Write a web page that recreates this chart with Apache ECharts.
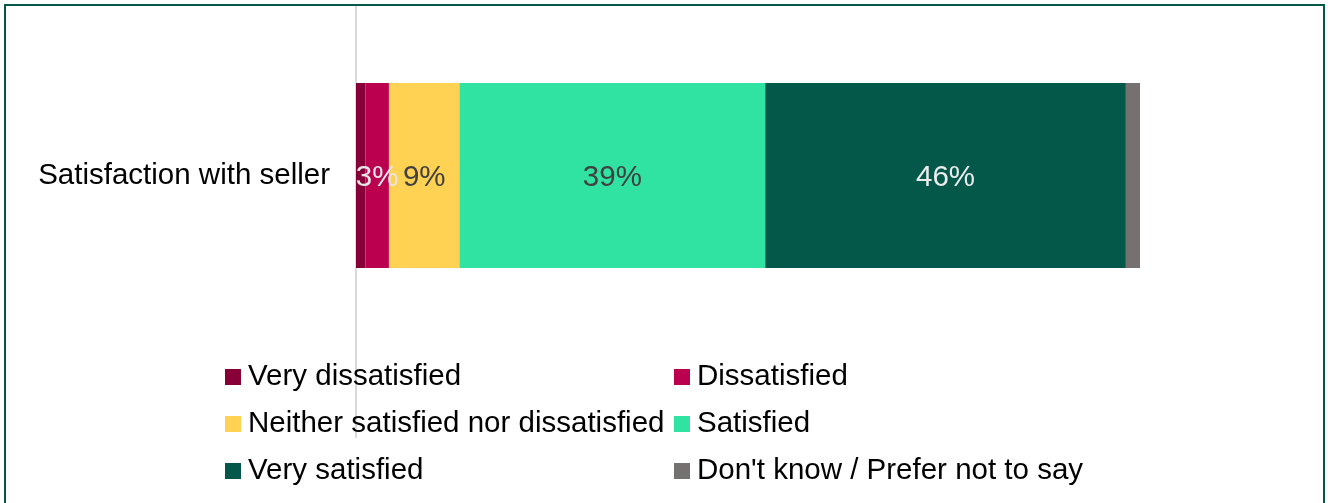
<!DOCTYPE html>
<html>
<head>
<meta charset="utf-8">
<script src="https://cdn.jsdelivr.net/npm/echarts@6/dist/echarts.min.js"></script>
<style>
  html, body { margin: 0; padding: 0; background: #fff; }
  #chart { position: absolute; left: 0; top: 0; width: 1328px; height: 503px; }
  #frame { position: absolute; left: 4px; top: 4px; width: 1317px; height: 540px;
           border: 2px solid #04584a; pointer-events: none; }
</style>
</head>
<body>
<div id="chart"></div>
<div id="frame"></div>
<script>
// Share of respondents (%) for one survey question, stacked left to right
const categories = ['Satisfaction with seller'];
const seriesNames = [
  'Very dissatisfied',
  'Dissatisfied',
  'Neither satisfied nor dissatisfied',
  'Satisfied',
  'Very satisfied',
  "Don't know / Prefer not to say"
];
const veryDissatisfied = [1.2];
const dissatisfied = [3];
const neither = [9];
const satisfied = [39];
const verySatisfied = [46];
const dontKnow = [2];

const values = [veryDissatisfied, dissatisfied, neither, satisfied, verySatisfied, dontKnow];
const colors = ['#870038', '#ba004e', '#ffd253', '#30e3a3', '#04584a', '#767171'];
const labelColors = [null, '#e8e8e8', '#404040', '#404040', '#ececec', null];

const FONT = 'Liberation Sans, Arial, sans-serif';
const FS = 29.5;

const series = seriesNames.map((name, i) => ({
  name: name,
  type: 'bar',
  stack: 'total',
  xAxisIndex: 0,
  yAxisIndex: 0,
  barWidth: 185,
  itemStyle: { color: colors[i] },
  label: {
    show: labelColors[i] !== null,
    position: 'inside',
    offset: [0, 2],
    formatter: p => p.value + '%',
    color: labelColors[i] || '#000',
    fontFamily: FONT,
    fontSize: FS
  },
  emphasis: { disabled: true },
  data: values[i]
}));

const legendText = { color: '#000', fontFamily: FONT, fontSize: FS, lineHeight: 30, padding: [0, 0, 0, 2] };

const chart = echarts.init(document.getElementById('chart'), null, { renderer: 'canvas' });
chart.setOption({
  animation: false,
  backgroundColor: '#fff',
  grid: [
    { left: 356, top: 5, width: 784, height: 341 },
    { left: 356, top: 5, width: 784, height: 432 }
  ],
  xAxis: [
    { type: 'value', gridIndex: 0, min: 0, max: 100, show: false },
    { type: 'value', gridIndex: 1, min: 0, max: 100, show: false }
  ],
  yAxis: [
    {
      type: 'category', gridIndex: 0, data: categories,
      axisLine: { show: false }, axisTick: { show: false },
      axisLabel: { color: '#000', fontFamily: FONT, fontSize: FS, margin: 26, padding: [2, 0, 0, 0] }
    },
    {
      type: 'category', gridIndex: 1, data: [''],
      axisLine: { show: true, lineStyle: { color: '#d9d9d9', width: 2 } },
      axisTick: { show: false }, axisLabel: { show: false }
    }
  ],
  legend: [
    {
      orient: 'vertical', left: 220, top: 357, itemGap: 17,
      itemWidth: 16, itemHeight: 16, icon: 'rect',
      data: [seriesNames[0], seriesNames[2], seriesNames[4]],
      textStyle: legendText, selectedMode: false
    },
    {
      orient: 'vertical', left: 669, top: 357, itemGap: 17,
      itemWidth: 16, itemHeight: 16, icon: 'rect',
      data: [seriesNames[1], seriesNames[3], seriesNames[5]],
      textStyle: legendText, selectedMode: false
    }
  ],
  series: series
});
</script>
</body>
</html>
